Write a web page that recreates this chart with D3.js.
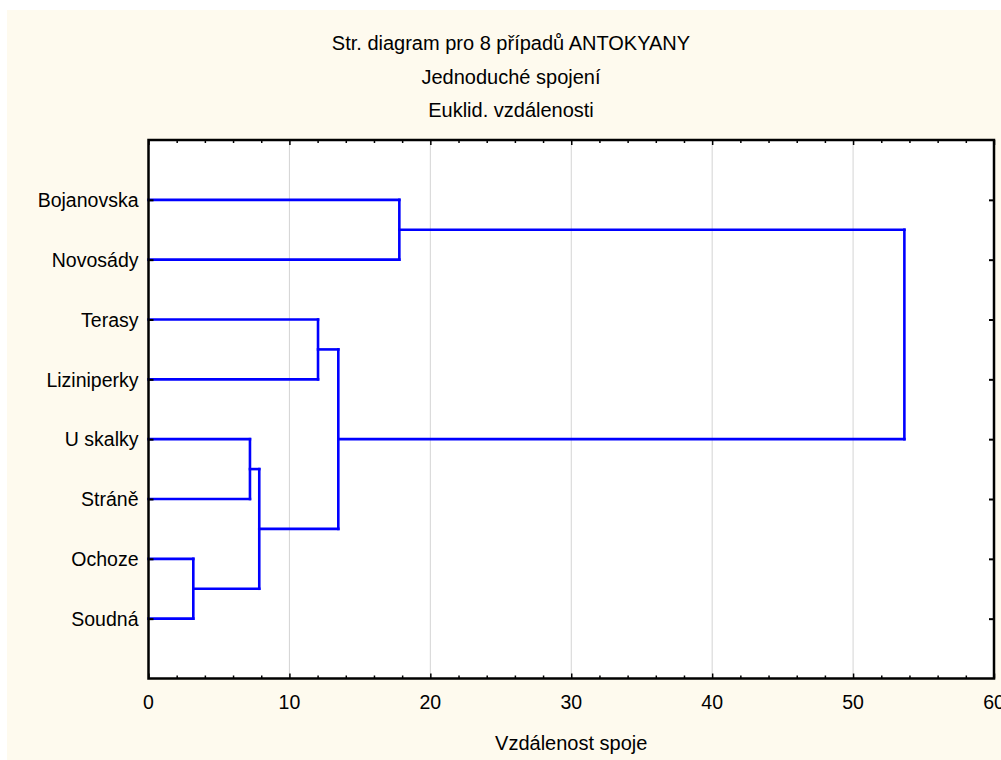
<!DOCTYPE html>
<html>
<head>
<meta charset="utf-8">
<script src="https://cdn.jsdelivr.net/npm/d3@7"></script>
<style>
  html, body { margin: 0; padding: 0; background: #ffffff; }
  svg { display: block; }
  text { font-family: "Liberation Sans", Arial, sans-serif; fill: #000; }
</style>
</head>
<body>
<div id="chart"></div>
<script>
// Leaves in display order (top to bottom)
const leaves = ["Bojanovska", "Novosády", "Terasy", "Liziniperky", "U skalky", "Stráně", "Ochoze", "Soudná"];

// Single-linkage merge steps: cluster ids 0..7 are leaves, new clusters get 8, 9, ...
const mergeA = [6, 4, 9, 2, 11, 0, 13];
const mergeB = [7, 5, 8, 3, 10, 1, 12];
const linkDist = [3.18, 7.2, 7.86, 12.03, 13.47, 17.8, 53.64];

const xTicks = [0, 10, 20, 30, 40, 50, 60];
const titleLines = ["Str. diagram pro 8 případů ANTOKYANY", "Jednoduché spojení", "Euklid. vzdálenosti"];
const xAxisTitle = "Vzdálenost spoje";

const W = 1001, H = 760;
const plot = { left: 148.5, right: 994, top: 140, bottom: 678.5 };

const svg = d3.select("#chart").append("svg").attr("width", W).attr("height", H);

// cream page background
svg.append("rect").attr("x", 7).attr("y", 10).attr("width", W - 7).attr("height", H - 10)
  .attr("fill", "#fefaee");

// white plotting area
svg.append("rect")
  .attr("x", plot.left).attr("y", plot.top)
  .attr("width", plot.right - plot.left).attr("height", plot.bottom - plot.top)
  .attr("fill", "#ffffff");

const x = d3.scaleLinear().domain([0, 60]).range([plot.left, plot.right]);
const y = d3.scaleLinear().domain([0, leaves.length + 1]).range([plot.top, plot.bottom]);

// vertical grid lines
svg.append("g").selectAll("line")
  .data(xTicks.filter(t => t > 0 && t < 60))
  .join("line")
  .attr("x1", d => x(d)).attr("x2", d => x(d))
  .attr("y1", plot.top).attr("y2", plot.bottom)
  .attr("stroke", "#d4d4d4").attr("stroke-width", 1);

// dendrogram geometry
const nodeX = {}, nodeY = {};
leaves.forEach((name, i) => { nodeX[i] = 0; nodeY[i] = i + 1; });
const segs = [];
mergeA.forEach((a, k) => {
  const b = mergeB[k], d = linkDist[k], id = leaves.length + k;
  segs.push([nodeX[a], nodeY[a], d, nodeY[a]]);
  segs.push([nodeX[b], nodeY[b], d, nodeY[b]]);
  segs.push([d, nodeY[a], d, nodeY[b]]);
  nodeX[id] = d;
  nodeY[id] = (nodeY[a] + nodeY[b]) / 2;
});

svg.append("g").selectAll("line")
  .data(segs)
  .join("line")
  .attr("x1", s => x(s[0])).attr("y1", s => y(s[1]))
  .attr("x2", s => x(s[2])).attr("y2", s => y(s[3]))
  .attr("stroke", "#0000ff").attr("stroke-width", 2.6)
  .attr("stroke-linecap", "square");

// axes (ticks pointing into the plot)
const minor = d3.range(0, 61, 2);
const axisBottom = d3.axisBottom(x).tickValues(minor).tickSizeInner(-3).tickSizeOuter(0).tickFormat("");
const axisTop = d3.axisTop(x).tickValues(minor).tickSizeInner(-3).tickSizeOuter(0).tickFormat("");
const gb = svg.append("g").attr("transform", `translate(0,${plot.bottom})`).call(axisBottom);
const gt = svg.append("g").attr("transform", `translate(0,${plot.top})`).call(axisTop);
[gb, gt].forEach(g => {
  g.select(".domain").remove();
  g.selectAll(".tick line").attr("stroke", "#000").attr("stroke-width", 1.5)
    .filter(d => d % 10 === 0).attr("y2", g === gb ? -5 : 5);
});

// bottom tick labels
svg.append("g").selectAll("text")
  .data(xTicks)
  .join("text")
  .attr("x", d => x(d)).attr("y", 709)
  .attr("text-anchor", "middle").style("font-size", "19.5px")
  .text(d => d);

const rowTicks = leaves.map((d, i) => i + 1);
const axisLeft = d3.axisLeft(y).tickValues(rowTicks).tickSizeInner(-5).tickSizeOuter(0)
  .tickFormat(i => leaves[i - 1]);
const axisRight = d3.axisRight(y).tickValues(rowTicks).tickSizeInner(-5).tickSizeOuter(0).tickFormat("");
const gl = svg.append("g").attr("transform", `translate(${plot.left},0)`).call(axisLeft);
const gr = svg.append("g").attr("transform", `translate(${plot.right},0)`).call(axisRight);
[gl, gr].forEach(g => {
  g.select(".domain").remove();
  g.selectAll(".tick line").attr("stroke", "#000").attr("stroke-width", 2);
});
gl.selectAll(".tick text")
  .attr("x", -10).attr("dy", "0.35em")
  .style("font-size", "19.5px").style("font-family", "'Liberation Sans', Arial, sans-serif")
  .attr("fill", "#000");

// plot frame
svg.append("rect")
  .attr("x", plot.left).attr("y", plot.top)
  .attr("width", plot.right - plot.left).attr("height", plot.bottom - plot.top)
  .attr("fill", "none").attr("stroke", "#000").attr("stroke-width", 2.5);

// titles
const titleY = [49.5, 84, 117];
svg.append("g").selectAll("text")
  .data(titleLines)
  .join("text")
  .attr("x", 511).attr("y", (d, i) => titleY[i])
  .attr("text-anchor", "middle").style("font-size", "20px")
  .text(d => d);

svg.append("text")
  .attr("x", (plot.left + plot.right) / 2).attr("y", 750)
  .attr("text-anchor", "middle").style("font-size", "20px")
  .text(xAxisTitle);
</script>
</body>
</html>
